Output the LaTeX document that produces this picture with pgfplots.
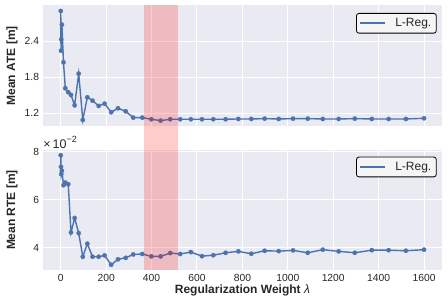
\documentclass[border=0pt]{standalone}
\usepackage{fontspec}
\setmainfont{Liberation Sans}
\usepackage{pgfplots}
\pgfplotsset{compat=1.18}
\definecolor{sbblue}{HTML}{4C72B0}
\definecolor{sbbg}{HTML}{EAEAF2}
\definecolor{sbtext}{HTML}{262626}
\pgfplotsset{
  sbstyle/.style={
    scale only axis, width=399.6pt, height=120.6pt,
    xmin=-80, xmax=1680,
    axis background/.style={fill=sbbg},
    axis line style={draw=none},
    major tick length=0pt,
    grid=major, grid style={white, line width=1pt},
    xtick={0,200,...,1600},
    tick label style={font=\fontsize{10.3}{12}\selectfont, text=sbtext},
    /pgf/number format/assume math mode=true,
    every axis y label/.style={at={(rel axis cs:0,0.5)}, rotate=90, anchor=center, yshift=30.6pt,
      font=\bfseries\fontsize{12}{14}\selectfont, text=sbtext},
    every axis x label/.style={at={(rel axis cs:0.5,0)}, anchor=north, yshift=-14.5pt, inner sep=0pt,
      font=\bfseries\fontsize{12}{14}\selectfont, text=sbtext},
    legend style={at={(rel axis cs:1,1)}, anchor=north east, xshift=-5.5pt,
      draw=black, line width=0.8pt, fill=white!96!black, rounded corners=2.5pt,
      inner sep=3pt, text=sbtext,
      font=\fontsize{12}{14}\selectfont,
      /tikz/every odd column/.append style={column sep=7pt}},
    legend cell align=left,
  },
  sbplot/.style={color=sbblue, line width=1.4pt, mark=*, mark size=2.2pt,
    mark options={fill=sbblue, draw=sbblue, line width=0.2pt},
    legend image code/.code={\draw[draw=sbblue, line width=1.8pt] (0pt,0pt) -- (25pt,0pt);}},
}
\pgfplotstableread{
lam ate rte
0 2.905 7.86
1 2.243 7.375
2 2.433 7.07
5 2.677 7.21
12 2.05 6.61
20 1.617 6.72
33 1.55 6.65
45 1.505 4.64
61 1.333 5.24
79 1.86 4.61
97 1.088 3.625
117 1.467 4.17
140 1.41 3.625
167 1.322 3.625
193 1.36 3.68
222 1.217 3.29
252 1.283 3.52
286 1.233 3.58
319 1.127 3.72
359 1.127 3.74
399 1.10 3.64
440 1.077 3.64
482 1.10 3.78
526 1.10 3.74
573 1.10 3.82
622 1.10 3.65
672 1.10 3.69
726 1.10 3.79
782 1.105 3.85
839 1.105 3.75
898 1.11 3.875
960 1.105 3.86
1023 1.11 3.89
1088 1.11 3.79
1154 1.105 3.92
1224 1.105 3.85
1295 1.11 3.79
1370 1.105 3.90
1444 1.105 3.90
1520 1.105 3.875
1600 1.116 3.92
}\datatable
\begin{document}
\begin{tikzpicture}
\begin{axis}[sbstyle, at={(42.6pt,178.9pt)}, anchor=south west,
  ymin=0.986, ymax=2.996,
  ytick={1.2,1.8,2.4}, yticklabels={1.2,1.8,2.4},
  xticklabels={},
  legend style={yshift=-7.5pt},
  ylabel={Mean ATE [m]}]
\addplot[sbplot] table[x=lam, y=ate] {\datatable};
\addlegendentry{L-Reg.}
\coordinate (s1) at (axis cs:367,2.996);
\end{axis}
\begin{axis}[sbstyle, at={(42.6pt,34.7pt)}, anchor=south west,
  ymin=3.06, ymax=8.09,
  ytick={4,6,8}, yticklabels={4,6,8},
  xticklabels={0,200,400,600,800,1000,1200,1400,1600},
  legend style={yshift=-7pt},
  ylabel={Mean RTE [m]},
  xlabel={Regularization Weight {\mdseries\itshape λ}}]
\addplot[sbplot] table[x=lam, y=rte] {\datatable};
\addlegendentry{L-Reg.}
\coordinate (s2) at (axis cs:517,3.06);
\coordinate (mul) at (rel axis cs:0,1);
\end{axis}
\node[anchor=base west, inner sep=0pt, text=sbtext]
  at ([xshift=0.5pt, yshift=1.5pt]mul) {\fontsize{12.5}{14}\selectfont ×\,10\raisebox{5.5pt}{\fontsize{9}{10}\selectfont −2}};
\fill[red, opacity=0.2] (s1) rectangle (s2);
\pgfresetboundingbox
\path[use as bounding box] (0,0) rectangle (448pt,305pt);
\end{tikzpicture}
\end{document}
